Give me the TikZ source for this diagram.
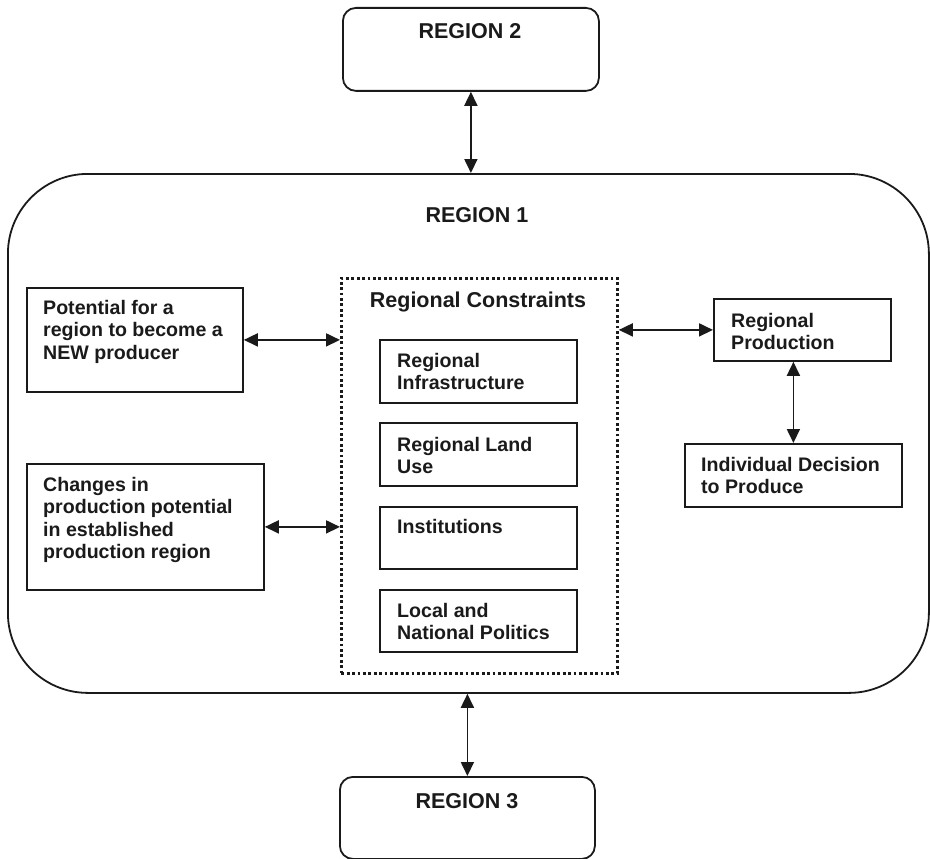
\documentclass[tikz,border=0pt]{standalone}
\usepackage{fontspec}
\setmainfont{Liberation Sans}
\usetikzlibrary{arrows.meta,calc}
\definecolor{ink}{HTML}{1A1A1A}
\tikzset{
  box/.style={draw=ink, line width=1.8pt, inner sep=0pt, anchor=north west},
  rbox/.style={box, rounded corners=13pt},
  dotbox/.style={draw=ink, line width=2.8pt, dash pattern=on 2.8pt off 2.6pt, inner sep=0pt, anchor=north west},
  txt/.style={inner sep=0pt, align=left, text=ink, font=\bfseries\fontsize{19.6pt}{22.3pt}\selectfont},
  head/.style={txt, font=\bfseries\fontsize{21.5pt}{24pt}\selectfont},
  link/.style={draw=ink, line width=1.8pt, {Triangle[length=14pt,width=13pt]}-{Triangle[length=14pt,width=13pt]}}
}
\begin{document}
\begin{tikzpicture}[x=1pt,y=-1pt]
\useasboundingbox (0,0) rectangle (930,859);
% outer regions
\node[box, rounded corners=80pt, minimum width=921pt, minimum height=519pt] (r1) at (7,173) {};
\node[rbox, minimum width=256pt, minimum height=83pt] (r2) at (342,7) {};
\node[rbox, minimum width=255pt, minimum height=82pt] (r3) at (339,776) {};
\node[head, anchor=base] (r2t) at (470,39) {REGION 2};
\node[head, anchor=base] (r1t) at (477,222) {REGION 1};
\node[head, anchor=base] (r3t) at (467,808) {REGION 3};
% constraints
\node[dotbox, minimum width=276pt, minimum height=395pt] (rc) at (340,277) {};
\node[head, anchor=base] (rct) at (478,307) {Regional Constraints};
\node[box, minimum width=197pt, minimum height=63pt] (b1) at (379,339) {};
\node[box, minimum width=197pt, minimum height=63pt] (b2) at (379,422) {};
\node[box, minimum width=197pt, minimum height=62pt] (b3) at (379,506) {};
\node[box, minimum width=197pt, minimum height=62pt] (b4) at (379,589) {};
\node[txt, anchor=north west] (b1t) at (397,353) {Regional\\Infrastructure};
\node[txt, anchor=north west] (b2t) at (397,437) {Regional Land\\Use};
\node[txt, anchor=north west] (b3t) at (397,519) {Institutions};
\node[txt, anchor=north west] (b4t) at (397,603) {Local and\\National Politics};
% left boxes
\node[box, minimum width=216pt, minimum height=104pt] (pot) at (26,287) {};
\node[txt, anchor=north west] (pott) at (43,300) {Potential for a\\region to become a\\NEW producer};
\node[box, minimum width=237pt, minimum height=126pt] (chg) at (26,463) {};
\node[txt, anchor=north west] (chgt) at (43,477) {Changes in\\production potential\\in established\\production region};
% right boxes
\node[box, minimum width=177pt, minimum height=62pt] (rp) at (713,298) {};
\node[txt, anchor=north west] (rpt) at (731,313) {Regional\\Production};
\node[box, minimum width=217pt, minimum height=63pt] (ind) at (684,443) {};
\node[txt, anchor=north west] (indt) at (701,457) {Individual Decision\\to Produce};
% connectors
\draw[link] (r2.south) -- (r2.south |- r1.north);
\draw[link] (r3.north |- r1.south) -- (r3.north);
\draw[link] (pot.east) -- (pot.east -| rc.west);
\draw[link] (chg.east) -- (chg.east -| rc.west);
\draw[link] (rc.east |- rp.west) -- (rp.west);
\draw[link] (ind.north |- rp.south) -- (ind.north);
\end{tikzpicture}
\end{document}
